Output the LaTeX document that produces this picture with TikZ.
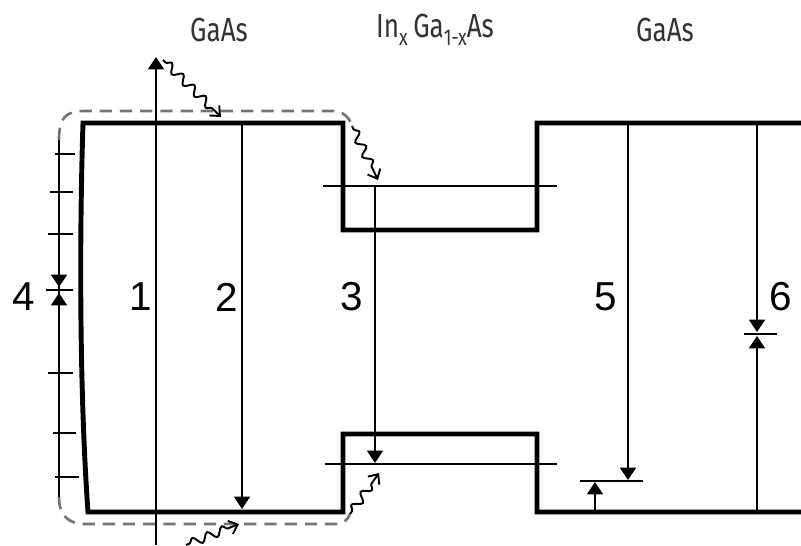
\documentclass[tikz,border=0pt]{standalone}
\usepackage{fontspec}
\setmainfont{Liberation Sans}
\newfontfamily\layerfont[FakeStretch=0.78]{Fira Sans}
\usetikzlibrary{arrows.meta,decorations.pathmorphing}
\newcommand\subtxt[1]{\raisebox{-0.45ex}{\fontsize{13}{13}\selectfont #1}}

\begin{document}
\begin{tikzpicture}[
  x=0.02cm, y=-0.02cm,
  wall/.style={line width=2.8pt, line join=miter},
  ray/.style={line width=1.1pt, -{Triangle[length=7pt,width=9pt]}},
  tickline/.style={line width=1.1pt},
  outline/.style={line width=1.5pt, black!55, dash pattern=on 7pt off 4.5pt},
  wave/.style={line width=1.1pt, -{Straight Barb[length=4.5pt,width=8pt]},
               decorate, decoration={snake, amplitude=2.4pt,
               segment length=9pt, pre length=2pt, post length=5pt}},
  layer/.style={font=\layerfont\fontsize{19}{19}\selectfont, text=black!80},
  num/.style={font=\fontsize{23}{23}\selectfont},
]
  \useasboundingbox (0,0) rectangle (801,545);

  % layer names
  \node[layer] (gaasl) at (219,30) {GaAs};
  \node[layer] (ingaas) at (435,30) {In\subtxt{x}\,Ga\subtxt{1-x}As};
  \node[layer] (gaasr) at (665,30) {GaAs};

  % heterostructure walls
  \draw[wall] (801,123) -- (537,123) -- (537,230) -- (343,230) -- (343,123)
    -- (83,123) .. controls (79,250) and (80,400) .. (88,512)
    -- (343,512) -- (343,434) -- (537,434) -- (537,512) -- (801,512);

  % dashed contour round the left part
  \draw[outline] (59,140) .. controls (59,118) and (65,111) .. (85,111)
    -- (333,111) .. controls (343,111) and (350,118) .. (352,126);
  \draw[outline] (59,497) .. controls (59,515) and (68,524) .. (85,524)
    -- (335,524) .. controls (343,524) and (348,520) .. (350,514);

  % ruler on the left
  \draw[tickline] (59,140) -- (59,497);
  \foreach \yy/\xa/\xb in {154/55/75, 192/50/73, 234/48/73, 290/46/73,
                           373/48/73, 433/53/76, 477/55/79}
    \draw[tickline] (\xa,\yy) -- (\xb,\yy);
  \draw[ray] (59,270) -- (59,287);
  \draw[ray] (59,310) -- (59,293);

  % horizontal marks in the well
  \draw[tickline] (323,186) -- (557,186);
  \draw[tickline] (325,464) -- (557,464);
  \draw[tickline] (580,481) -- (643,481);
  \draw[tickline] (744,334) -- (777,334);

  % transitions
  \draw[ray] (156,545) -- (156,57);
  \draw[ray] (242,123) -- (242,509);
  \draw[ray] (375,186) -- (375,463);
  \draw[ray] (628,123) -- (628,480);
  \draw[ray] (595,512) -- (595,482);
  \draw[ray] (757,123) -- (757,332);
  \draw[ray] (757,512) -- (757,336);

  % photons
  \draw[wave] (163,60) -- (221,117);
  \draw[wave] (352,126) -- (378,180);
  \draw[wave] (350,514) -- (379,473);
  \draw[wave] (186,545) -- (239,524);

  % numbers
  \node[num] (n4) at (24,297) {4};
  \node[num] (n1) at (141,297) {1};
  \node[num] (n2) at (227,297) {2};
  \node[num] (n3) at (352,297) {3};
  \node[num] (n5) at (606,297) {5};
  \node[num] (n6) at (781,297) {6};
\end{tikzpicture}
\end{document}
